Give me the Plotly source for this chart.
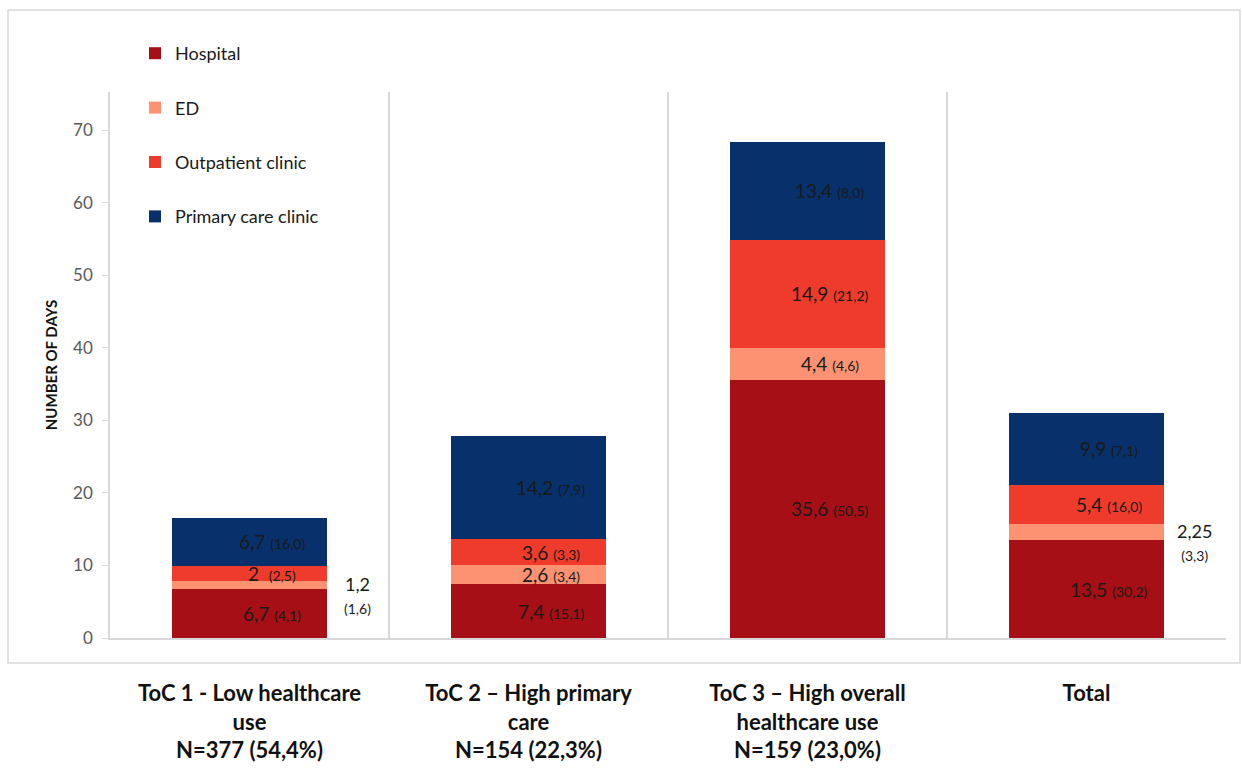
import plotly.graph_objects as go

categories = ["ToC 1 - Low healthcare<br>use<br>N=377 (54,4%)",
              "ToC 2 \u2013 High primary<br>care<br>N=154 (22,3%)",
              "ToC 3 \u2013 High overall<br>healthcare use<br>N=159 (23,0%)",
              "Total"]
series_names = ["Hospital", "ED", "Outpatient clinic", "Primary care clinic"]
hospital = [6.7, 7.4, 35.6, 13.5]
ed = [1.2, 2.6, 4.4, 2.25]
outpatient = [2, 3.6, 14.9, 5.4]
primary = [6.7, 14.2, 13.4, 9.9]
hospital_sd = [4.1, 15.1, 50.5, 30.2]
ed_sd = [1.6, 3.4, 4.6, 3.3]
outpatient_sd = [2.5, 3.3, 21.2, 16.0]
primary_sd = [16.0, 7.9, 8.0, 7.1]
colors = ["#a50f15", "#fc9272", "#ef3b2c", "#08306b"]
y_ticks = [0, 10, 20, 30, 40, 50, 60, 70]

values = [hospital, ed, outpatient, primary]
sds = [hospital_sd, ed_sd, outpatient_sd, primary_sd]

FONT = "Lato"

fig = go.Figure()
for i, (name, vals, col) in enumerate(zip(series_names, values, colors)):
    fig.add_trace(go.Bar(x=categories, y=vals, name=name, marker_color=col,
                         marker_line_width=0, legendgroup=name))

def fmt(v):
    return f"{v:g}".replace(".", ",")

def fmt_sd(v):
    return f"{v:.1f}".replace(".", ",")

# data labels
for j, cat in enumerate(categories):
    base = 0
    for i in range(len(series_names)):
        v = values[i][j]
        mid = base + v / 2
        outside = (i == 1 and j in (0, 3))
        if outside:
            fig.add_annotation(x=cat, y=mid, xref="x", yref="y",
                               text=f"{fmt(v)}<br><span style='font-size:14px'>({fmt_sd(sds[i][j])})</span>",
                               showarrow=False, xshift=108, yshift=-10,
                               font=dict(family=FONT, size=18, color="#1a1a1a"))
        else:
            sep = "  " if v == int(v) and v < 10 else " "
            fig.add_annotation(x=cat, y=mid, xref="x", yref="y",
                               text=f"{fmt(v)}{sep}<span style='font-size:14px'>({fmt_sd(sds[i][j])})</span>",
                               showarrow=False, xshift=22,
                               font=dict(family=FONT, size=19, color="#1a1a1a"))
        base += v

L, R, T, B = 110, 16, 92, 135
W, H = 1242, 773
pw, ph = W - L - R, H - T - B

def px_x(px):
    return (px - L) / pw

def px_y(py):
    return (H - B - py) / ph

# outer frame
fig.add_shape(type="rect", xref="paper", yref="paper",
              x0=px_x(8), x1=px_x(1240), y0=px_y(663), y1=px_y(10),
              line=dict(color="#d9d9d9", width=1.5), layer="below")

fig.update_layout(
    width=W, height=H,
    margin=dict(l=L, r=R, t=T, b=B, autoexpand=False),
    paper_bgcolor="white", plot_bgcolor="white",
    barmode="stack", bargap=0.444,
    font=dict(family=FONT, color="#1a1a1a"),
    showlegend=True,
    legend=dict(x=px_x(135), y=px_y(35), xanchor="left", yanchor="top",
                traceorder="grouped", tracegroupgap=28,
                font=dict(family=FONT, size=18, color="#1a1a1a"),
                bgcolor="rgba(0,0,0,0)", itemclick=False),
    xaxis=dict(type="category", categoryorder="array", categoryarray=categories,
               tickson="boundaries", ticks="", automargin=False,
               showgrid=True, gridcolor="#d9d9d9", gridwidth=1.5,
               showline=True, linecolor="#d9d9d9", linewidth=1.5,
               tickfont=dict(family=FONT, size=22, color="#111111", weight="bold"),
               ticklabelstandoff=35),
    yaxis=dict(range=[0, ph / 7.257], tickvals=y_ticks, automargin=False,
               showgrid=False, zeroline=False,
               showline=True, linecolor="#d9d9d9", linewidth=1.5,
               ticks="outside", ticklen=6, tickcolor="#d9d9d9",
               tickfont=dict(family=FONT, size=17, color="#595959"),
               ticklabelstandoff=6,
               title=dict(text="NUMBER OF DAYS", standoff=12,
                          font=dict(family=FONT, size=15, color="#111111", weight="bold"))),
)

fig.write_html("out.html")
